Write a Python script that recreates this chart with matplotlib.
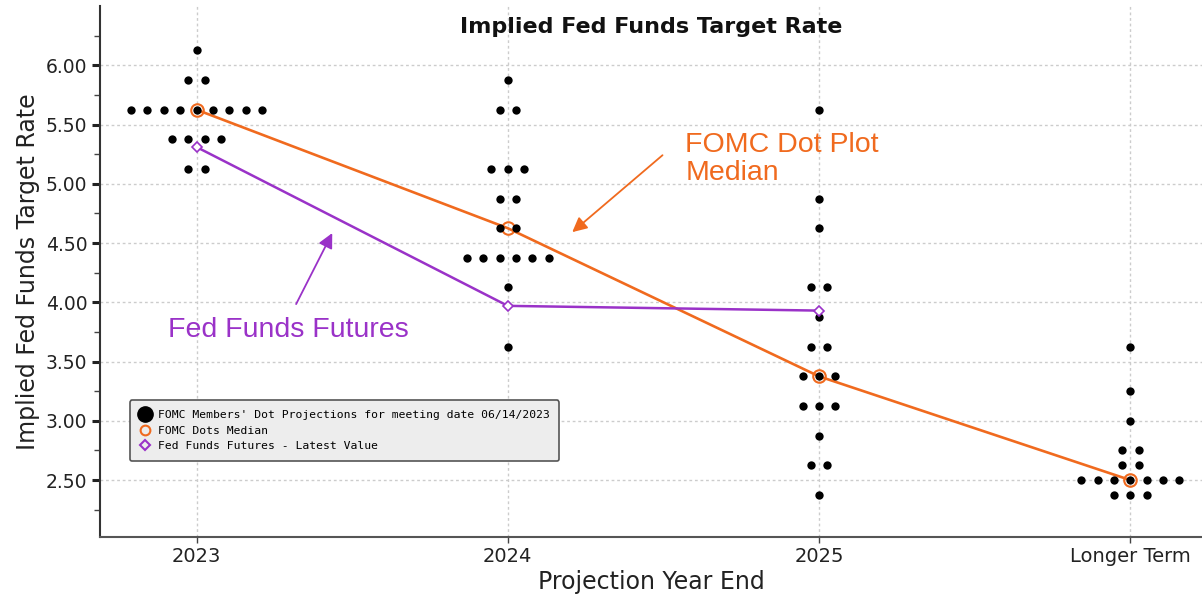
import matplotlib.pyplot as plt
from matplotlib.lines import Line2D
import numpy as np

# categories on x axis
years = ['2023', '2024', '2025', 'Longer Term']

# FOMC dot plot: rate level -> number of members, per projection year
dots_2023 = {6.125: 1, 5.875: 2, 5.625: 9, 5.375: 4, 5.125: 2}
dots_2024 = {5.875: 1, 5.625: 2, 5.125: 3, 4.875: 2, 4.625: 2, 4.375: 6,
             4.125: 1, 3.625: 1}
dots_2025 = {5.625: 1, 4.875: 1, 4.625: 1, 4.125: 2, 3.875: 1, 3.625: 2,
             3.375: 3, 3.125: 3, 2.875: 1, 2.625: 2, 2.375: 1}
dots_lt = {3.625: 1, 3.25: 1, 3.0: 1, 2.75: 2, 2.625: 2, 2.5: 7, 2.375: 3}

median = [5.625, 4.625, 3.375, 2.5]
futures = [5.31, 3.97, 3.93]

orange = '#f06a1e'
purple = '#9a32c8'

fig = plt.figure(figsize=(12.02, 5.97), dpi=100)
ax = fig.add_axes([0.0832, 0.1005, 0.9168, 0.8895])

# spread dots of the same level side by side
step = 0.0525
for i, d in enumerate([dots_2023, dots_2024, dots_2025, dots_lt]):
    for level, n in d.items():
        xs = i + (np.arange(n) - (n - 1) / 2) * step
        ax.scatter(xs, [level] * n, s=36, color='black', zorder=4, linewidths=0)

ax.plot(range(4), median, color=orange, lw=1.9, zorder=3)
ax.plot(range(4), median, ls='none', marker='o', ms=9, mfc='none', mec=orange,
        mew=1.5, zorder=3.5)
ax.plot(range(3), futures, color=purple, lw=1.8, zorder=3)
ax.plot(range(3), futures, ls='none', marker='D', ms=5, mfc='white', mec=purple,
        mew=1.2, zorder=5)

ax.set_xlim(-0.31, 3.23)
ax.set_ylim(2.02, 6.5)
ax.set_xticks(range(4))
ax.set_xticklabels(years, fontsize=14, color='#222222')
ax.set_yticks([2.5, 3.0, 3.5, 4.0, 4.5, 5.0, 5.5, 6.0])
ax.set_yticklabels(['%.2f' % v for v in ax.get_yticks()], fontsize=13.5, color='#222222')
ax.set_yticks(np.arange(2.25, 6.5, 0.5), minor=True)
ax.tick_params(axis='y', which='major', length=6, width=2.2, color='#222222', pad=3)
ax.tick_params(axis='y', which='minor', length=4, width=1, color='#444444')
ax.tick_params(axis='x', length=4, width=1, color='#444444', pad=3)

ax.grid(True, which='major', color='#cccccc', ls=(0, (2, 2)), lw=1)
ax.set_axisbelow(True)
for s in ['top', 'right']:
    ax.spines[s].set_visible(False)
ax.spines['left'].set_color('#333333')
ax.spines['left'].set_linewidth(1.5)
ax.spines['bottom'].set_color('#555555')
ax.spines['bottom'].set_linewidth(1.5)

ax.set_ylabel('Implied Fed Funds Target Rate', fontsize=17, color='#222222', labelpad=4)
ax.set_xlabel('Projection Year End', fontsize=17, color='#222222', labelpad=3)
ax.text(0.5, 0.961, 'Implied Fed Funds Target Rate', transform=ax.transAxes,
        ha='center', va='center', fontsize=16, fontweight='bold', color='#111111')

handles = [
    Line2D([], [], ls='none', marker='o', ms=11, color='black'),
    Line2D([], [], ls='none', marker='o', ms=7, mfc='none', mec=orange, mew=1.5),
    Line2D([], [], ls='none', marker='D', ms=5, mfc='none', mec=purple, mew=1.5),
]
labels = ["FOMC Members' Dot Projections for meeting date 06/14/2023",
          'FOMC Dots Median', 'Fed Funds Futures - Latest Value']
leg = ax.legend(handles, labels, loc='lower left', bbox_to_anchor=(0.027, 0.143),
                prop={'family': 'DejaVu Sans Mono', 'size': 8.2},
                handlelength=1.0, handletextpad=0.6, labelspacing=0.5,
                borderpad=0.85, borderaxespad=0, fancybox=True, framealpha=1,
                facecolor='#ededed', edgecolor='#555555')
leg.get_frame().set_linewidth(1.2)

# annotations
ax.text(1.570, 5.207, 'FOMC Dot Plot\nMedian', fontsize=20.5, color=orange,
        family='Liberation Sans', ha='left', va='center', linespacing=1.12)
ax.annotate('', xy=(1.207, 4.592), xytext=(1.497, 5.241),
            arrowprops=dict(arrowstyle='-|>', color=orange, lw=1.3,
                            mutation_scale=22, shrinkA=0, shrinkB=0))
ax.text(-0.091, 3.766, 'Fed Funds Futures', fontsize=20.5, color=purple,
        family='Liberation Sans', ha='left', va='center')
ax.annotate('', xy=(0.436, 4.584), xytext=(0.320, 3.985),
            arrowprops=dict(arrowstyle='-|>', color=purple, lw=1.3,
                            mutation_scale=22, shrinkA=0, shrinkB=0))

fig.savefig('out.png', dpi=100)
